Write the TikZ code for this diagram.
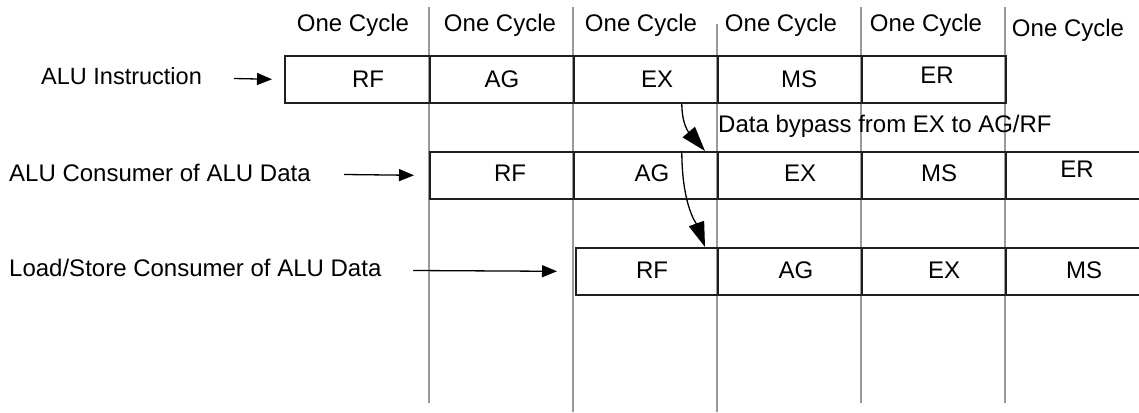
\documentclass[tikz,border=0pt]{standalone}
\usepackage{fontspec}
\setmainfont{Liberation Sans}
\usetikzlibrary{arrows.meta}
\begin{document}
\begin{tikzpicture}[x=1pt,y=-1pt,
  gridline/.style={draw=black!40, line width=1.3pt},
  box/.style={draw=black!88, line width=1.6pt, rectangle, minimum height=47pt, inner sep=0pt, anchor=north west},
  txt/.style={font=\fontsize{24}{27}\selectfont, inner sep=0pt, anchor=base},
  ltxt/.style={font=\fontsize{24}{27}\selectfont, inner sep=0pt, anchor=base west},
  feed/.style={-{Triangle[length=15pt,width=12pt]}, line width=1.3pt},
  bypass/.style={-{Triangle[length=25pt,width=16pt]}, line width=1.3pt}]
\useasboundingbox (0,0) rectangle (1139,412);
\clip (0,0) rectangle (1139,412);

% cycle separators
\draw[gridline] (429,7) -- (429,403);
\draw[gridline] (573,7) -- (573,412);
\draw[gridline] (717,24) -- (717,412);
\draw[gridline] (861,7) -- (861,403);
\draw[gridline] (1005,7) -- (1005,403);

% headers
\node[txt] (h1) at (353,32) {One Cycle};
\node[txt] (h2) at (500,32) {One Cycle};
\node[txt] (h3) at (641,32) {One Cycle};
\node[txt] (h4) at (781,32) {One Cycle};
\node[txt] (h5) at (926,32) {One Cycle};
\node[txt] (h6) at (1068,37) {One Cycle};

% row 1
\node[box, minimum width=145pt] (r1rf) at (284,55) {};
\node[box, minimum width=144pt] (r1ag) at (429,55) {};
\node[box, minimum width=144pt] (r1ex) at (573,55) {};
\node[box, minimum width=144pt] (r1ms) at (717,55) {};
\node[box, minimum width=144pt] (r1er) at (861,55) {};
\node[txt] (t1rf) at (368,87) {RF};
\node[txt] (t1ag) at (502,87) {AG};
\node[txt] (t1ex) at (657,87) {EX};
\node[txt] (t1ms) at (799,87) {MS};
\node[txt] (t1er) at (937,83) {ER};

% row 2
\node[box, minimum width=144pt] (r2rf) at (429,151) {};
\node[box, minimum width=144pt] (r2ag) at (573,151) {};
\node[box, minimum width=144pt] (r2ex) at (717,151) {};
\node[box, minimum width=144pt] (r2ms) at (861,151) {};
\node[box, minimum width=160pt] (r2er) at (1005,151) {};
\node[txt] (t2rf) at (510,181) {RF};
\node[txt] (t2ag) at (652,181) {AG};
\node[txt] (t2ex) at (800,181) {EX};
\node[txt] (t2ms) at (939,181) {MS};
\node[txt] (t2er) at (1077,177) {ER};

% row 3
\node[box, minimum width=142pt] (r3rf) at (575,247) {};
\node[box, minimum width=144pt] (r3ag) at (717,247) {};
\node[box, minimum width=144pt] (r3ex) at (861,247) {};
\node[box, minimum width=160pt] (r3ms) at (1005,247) {};
\node[txt] (t3rf) at (652,278) {RF};
\node[txt] (t3ag) at (796,278) {AG};
\node[txt] (t3ex) at (944,278) {EX};
\node[txt] (t3ms) at (1084,278) {MS};

% left labels
\node[ltxt, font=\fontsize{23.5}{27}\selectfont] (l1) at (41,84) {ALU Instruction};
\node[ltxt] (l2) at (9,181) {ALU Consumer of ALU Data};
\node[ltxt] (l3) at (9,276) {Load/Store Consumer of ALU Data};

\coordinate (f1) at (234,78.5);
\coordinate (f2) at (344,174.5);
\coordinate (f3) at (413,270.5);
\draw[feed] (f1) -- ([xshift=-12pt]r1rf.west);
\draw[feed] (f2) -- ([xshift=-15pt]r2rf.west);
\draw[feed] (f3) -- ([xshift=-18pt]r3rf.west);

% bypass
\node[ltxt] (bp) at (718,132) {Data bypass from EX to AG/RF};
\draw[bypass] ([xshift=36pt]r1ex.south) .. controls +(0,26) and +(-12,-14) .. ([xshift=-12pt]r2ex.north west);
\draw[bypass] ([xshift=36pt]r2ag.north) .. controls +(0,55) and +(-8,-22) .. ([xshift=-12pt]r3ag.north west);
\end{tikzpicture}
\end{document}
